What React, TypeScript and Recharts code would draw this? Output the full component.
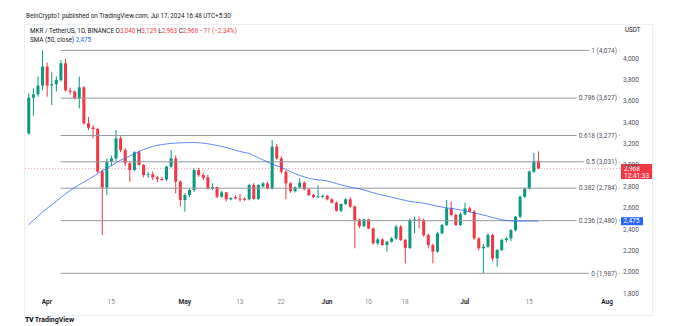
import { ComposedChart, Bar, Line, XAxis, YAxis, ReferenceLine } from "recharts";

// MKR/USDT daily candles, first candle on START_DATE
const START_DATE = "2024-03-28";

const opens = [
  3297, 3631, 3663, 3744, 3922, 3744, 3756, 3797, 3953, 3700,
  3688, 3625, 3728, 3391, 3352, 3338, 2939, 2789, 3032, 3063,
  3251, 3141, 3017, 2954, 3120, 3001, 2907, 2915, 2885, 2870,
  2865, 2985, 3063, 2845, 2673, 2720, 2767, 2954, 2907, 2885,
  2782, 2795, 2704, 2745, 2680, 2700, 2688, 2685, 2680, 2814,
  2683, 2800, 2829, 2782, 3173, 3063, 2939, 2829, 2757, 2792,
  2836, 2773, 2720, 2700, 2708, 2712, 2680, 2648, 2573, 2636,
  2680, 2611, 2490, 2428, 2492, 2408, 2268, 2305, 2252, 2283,
  2314, 2424, 2300, 2225, 2486, 2490, 2486, 2345, 2252, 2190,
  2361, 2439, 2595, 2533, 2439, 2540, 2595, 2564, 2314, 2221,
  2236, 2346, 2127, 2205, 2299, 2314, 2392, 2517, 2704, 2782,
  2939, 3040,
];
const highs = [
  3672, 3719, 3828, 4074, 3960, 3870, 3830, 3984, 3995, 3725,
  3700, 3828, 3740, 3450, 3375, 3350, 2960, 3063, 3090, 3329,
  3270, 3160, 3030, 3130, 3140, 3010, 2935, 2940, 2900, 2890,
  2995, 3141, 3090, 2860, 2736, 2780, 2970, 2975, 2930, 2910,
  2830, 2800, 2760, 2750, 2700, 2720, 2730, 2700, 2825, 2830,
  2820, 2840, 2845, 3235, 3200, 3080, 2950, 2840, 2800, 2876,
  2850, 2785, 2730, 2810, 2725, 2720, 2690, 2660, 2640, 2690,
  2700, 2625, 2500, 2500, 2500, 2415, 2320, 2315, 2290, 2325,
  2440, 2440, 2310, 2500, 2517, 2517, 2500, 2360, 2265, 2375,
  2450, 2673, 2660, 2545, 2560, 2648, 2610, 2580, 2325, 2260,
  2360, 2355, 2215, 2310, 2330, 2400, 2525, 2715, 2790, 2950,
  3116, 3129,
];
const lows = [
  3285, 3463, 3640, 3700, 3640, 3563, 3690, 3780, 3690, 3660,
  3615, 3531, 3380, 3330, 3250, 2930, 2346, 2720, 2990, 3040,
  3120, 2990, 2845, 2945, 2995, 2885, 2880, 2860, 2840, 2850,
  2850, 2975, 2736, 2611, 2564, 2700, 2750, 2890, 2860, 2770,
  2765, 2690, 2695, 2660, 2670, 2680, 2660, 2665, 2670, 2675,
  2675, 2790, 2770, 2770, 3050, 2920, 2680, 2740, 2745, 2780,
  2765, 2710, 2690, 2690, 2690, 2670, 2640, 2565, 2560, 2625,
  2600, 2221, 2410, 2420, 2400, 2255, 2250, 2245, 2190, 2275,
  2300, 2290, 2080, 2215, 2361, 2408, 2330, 2220, 2080, 2180,
  2350, 2430, 2520, 2430, 2430, 2530, 2555, 2300, 2200, 1987,
  2225, 2096, 2049, 2195, 2280, 2290, 2380, 2505, 2690, 2770,
  2925, 2963,
];
const closes = [
  3631, 3663, 3744, 3922, 3744, 3756, 3797, 3953, 3700, 3688,
  3625, 3728, 3391, 3350, 3338, 2939, 2789, 3032, 3063, 3251,
  3141, 3017, 2954, 3120, 3001, 2907, 2915, 2885, 2870, 2865,
  2985, 3063, 2845, 2673, 2720, 2767, 2954, 2907, 2880, 2782,
  2795, 2704, 2745, 2680, 2692, 2688, 2685, 2680, 2814, 2683,
  2814, 2829, 2782, 3173, 3063, 2939, 2829, 2757, 2792, 2836,
  2773, 2720, 2700, 2708, 2712, 2680, 2648, 2573, 2636, 2680,
  2611, 2486, 2428, 2492, 2408, 2268, 2305, 2252, 2283, 2314,
  2424, 2300, 2225, 2486, 2490, 2486, 2345, 2252, 2190, 2361,
  2439, 2595, 2533, 2439, 2540, 2595, 2564, 2314, 2221, 2236,
  2346, 2127, 2205, 2299, 2314, 2392, 2517, 2704, 2782, 2939,
  3039, 2968,
];
// SMA(50, close)
const sma50 = [
  2440, 2480, 2520, 2560, 2595, 2625, 2660, 2695, 2730, 2760,
  2790, 2815, 2840, 2865, 2890, 2920, 2945, 2970, 2995, 3020,
  3045, 3065, 3085, 3105, 3125, 3145, 3160, 3175, 3185, 3192,
  3198, 3203, 3206, 3208, 3210, 3211, 3211, 3210, 3206, 3200,
  3192, 3185, 3175, 3165, 3152, 3140, 3128, 3118, 3110, 3090,
  3070, 3050, 3030, 3010, 2995, 2980, 2960, 2940, 2920, 2905,
  2890, 2878, 2868, 2862, 2858, 2852, 2840, 2828, 2815, 2805,
  2795, 2785, 2778, 2768, 2755, 2742, 2730, 2720, 2710, 2700,
  2690, 2680, 2670, 2660, 2655, 2650, 2643, 2635, 2625, 2615,
  2608, 2600, 2595, 2588, 2580, 2572, 2563, 2553, 2543, 2533,
  2522, 2510, 2500, 2490, 2482, 2478, 2476, 2475, 2476, 2477,
  2477, 2475,
];

const tickDates = [
  "2024-04-01", "2024-04-15", "2024-05-01", "2024-05-13", "2024-05-22", "2024-06-01",
  "2024-06-10", "2024-06-18", "2024-07-01", "2024-07-15", "2024-08-01",
];
const tickLabels = ["Apr", "15", "May", "13", "22", "Jun", "10", "18", "Jul", "15", "Aug"];
const priceTicks = [1800, 2000, 2200, 2400, 2600, 2800, 3000, 3200, 3400, 3600, 3800, 4000];

const fibRatios = ["1", "0.786", "0.618", "0.5", "0.382", "0.236", "0"];
const fibPrices = [4074, 3627, 3277, 3031, 2784, 2480, 1987];
const fibFromDate = "2024-04-04";

const GREEN = "#089981";
const RED = "#f23645";
const BLUE = "#2962ff";
const FONT = "Roboto, 'Liberation Sans', Arial, sans-serif";

const DAY_MS = 86400000;
const dayIndex = (d: string) => Math.round((Date.parse(d) - Date.parse(START_DATE)) / DAY_MS);
const tickDays = tickDates.map(dayIndex);

const X_MIN = -0.78;
const X_MAX = 128.8;
const Y_MIN = 1784;
const Y_MAX = 4293;

const rows = opens.map((o, i) => ({
  day: i,
  open: o,
  high: highs[i],
  low: lows[i],
  close: closes[i],
  range: [lows[i], highs[i]],
  sma: sma50[i],
}));

const fmt = (v: number) => v.toLocaleString("en-US");

const Candle = (props: any) => {
  const { x, y, width, height, payload } = props;
  if (payload == null) return null;
  const { open, close, high, low } = payload;
  const color = close >= open ? GREEN : RED;
  const top = Math.min(y, y + height);
  const h = Math.abs(height);
  const span = high - low || 1;
  const yOf = (v: number) => top + ((high - v) / span) * h;
  const bodyTop = yOf(Math.max(open, close));
  const bodyBottom = yOf(Math.min(open, close));
  const cx = x + width / 2;
  return (
    <g>
      <line x1={cx} x2={cx} y1={top} y2={top + h} stroke={color} strokeWidth={1} />
      <rect x={x} y={bodyTop} width={width} height={Math.max(bodyBottom - bodyTop, 1)} fill={color} />
    </g>
  );
};

const DateTick = ({ x, y, payload }: any) => {
  const label = tickLabels[tickDays.indexOf(payload.value)] ?? "";
  const isMonth = /[A-Za-z]/.test(label);
  return (
    <text
      x={x}
      y={y}
      dy={9}
      textAnchor="middle"
      fontSize={6.5}
      fontFamily={FONT}
      fontWeight={isMonth ? 600 : 400}
      fill={isMonth ? "#131722" : "#8a8d96"}
    >
      {label}
    </text>
  );
};

const PriceTick = ({ x, y, payload }: any) => (
  <text x={x} y={y} dy={2.3} textAnchor="start" fontSize={6.5} fontFamily={FONT} fill="#50535e">
    {fmt(payload.value)}
  </text>
);

const fibLabel = (text: string) => (props: any) => {
  const vb = props.viewBox || {};
  return (
    <text
      x={vb.x + vb.width - 3}
      y={vb.y}
      dy={2.3}
      textAnchor="end"
      fontSize={6.5}
      fontFamily={FONT}
      fill="#50535e"
      stroke="#ffffff"
      strokeWidth={5}
      style={{ paintOrder: "stroke" }}
    >
      {text}
    </text>
  );
};

const lastPriceTag = (props: any) => {
  const vb = props.viewBox || {};
  const left = vb.x + vb.width + 1;
  return (
    <g>
      <rect x={left} y={vb.y - 4.5} width={31} height={15} fill={RED} />
      <text x={left + 3} y={vb.y} dy={2.3} fontSize={6.5} fontFamily={FONT} fill="#fff">
        {fmt(closes[closes.length - 1])}
      </text>
      <text x={left + 3} y={vb.y + 7} dy={2.3} fontSize={6.5} fontFamily={FONT} fill="#fff">
        12:41:33
      </text>
    </g>
  );
};

const smaTag = (props: any) => {
  const vb = props.viewBox || {};
  const left = vb.x + vb.width + 1;
  return (
    <g>
      <rect x={left} y={vb.y - 4} width={22} height={8} fill={BLUE} />
      <text x={left + 2.5} y={vb.y} dy={2.3} fontSize={6.5} fontFamily={FONT} fill="#fff">
        {fmt(sma50[sma50.length - 1])}
      </text>
    </g>
  );
};

export default function App() {
  const last = rows[rows.length - 1];
  const change = last.close - closes[closes.length - 2];
  const pct = (change / closes[closes.length - 2]) * 100;
  const fibStart = dayIndex(fibFromDate);

  return (
    <div
      style={{
        position: "absolute",
        left: 0,
        top: 0,
        width: 700,
        height: 326,
        background: "#fff",
        fontFamily: FONT,
        overflow: "hidden",
      }}
    >
      <div style={{ position: "absolute", left: 26, top: 12, fontSize: 6.3, color: "#131722" }}>
        BeInCrypto1 published on TradingView.com, Jul 17, 2024 16:48 UTC+5:30
      </div>
      <div
        style={{
          position: "absolute",
          left: 24,
          top: 24,
          width: 629,
          height: 292,
          border: "1px solid #eceef2",
          boxSizing: "border-box",
        }}
      />
      <div style={{ position: "absolute", left: 30, top: 27, fontSize: 6.3, color: "#131722", whiteSpace: "nowrap" }}>
        MKR / TetherUS, 1D, BINANCE{" "}
        <span style={{ color: "#131722" }}>O</span>
        <span style={{ color: RED }}>{fmt(last.open)} </span>
        <span>H</span>
        <span style={{ color: RED }}>{fmt(last.high)} </span>
        <span>L</span>
        <span style={{ color: RED }}>{fmt(last.low)} </span>
        <span>C</span>
        <span style={{ color: RED }}>
          {fmt(last.close)} {"\u2212"}
          {Math.abs(change)} ({"\u2212"}
          {Math.abs(pct).toFixed(2)}%)
        </span>
      </div>
      <div style={{ position: "absolute", left: 30, top: 36, fontSize: 6.3, color: "#131722", whiteSpace: "nowrap" }}>
        SMA (50, close) <span style={{ color: BLUE }}>{fmt(last.sma)}</span>
      </div>
      <div style={{ position: "absolute", left: 625, top: 26, fontSize: 6.3, color: "#131722" }}>USDT</div>

      <ComposedChart
        width={700}
        height={326}
        data={rows}
        margin={{ top: 27, right: 47, bottom: 11, left: 25 }}
        style={{ position: "absolute", left: 0, top: 0 }}
      >
        <XAxis
          dataKey="day"
          type="number"
          domain={[X_MIN, X_MAX]}
          allowDataOverflow
          ticks={tickDays}
          tick={<DateTick />}
          tickLine={false}
          axisLine={false}
          tickSize={0}
          tickMargin={0}
          height={20}
          interval={0}
        />
        <YAxis
          orientation="right"
          type="number"
          domain={[Y_MIN, Y_MAX]}
          allowDataOverflow
          ticks={priceTicks}
          tick={<PriceTick />}
          tickLine={false}
          axisLine={false}
          tickSize={0}
          tickMargin={3}
          width={33}
          interval={0}
        />
        {fibPrices.map((p, i) => (
          <ReferenceLine
            key={fibRatios[i]}
            segment={[
              { x: fibStart, y: p },
              { x: X_MAX, y: p },
            ]}
            stroke="#9598a1"
            strokeWidth={1}
            label={fibLabel(`${fibRatios[i]} (${fmt(p)})`)}
          />
        ))}
        <ReferenceLine
          y={last.close}
          stroke={RED}
          strokeOpacity={0.45}
          strokeDasharray="1 2"
          label={lastPriceTag}
        />
        <ReferenceLine y={last.sma} stroke="none" label={smaTag} />
        <Line
          dataKey="sma"
          type="monotone"
          stroke={BLUE}
          strokeOpacity={0.75}
          strokeWidth={1}
          dot={false}
          isAnimationActive={false}
        />
        <Bar dataKey="range" barSize={3} shape={Candle} isAnimationActive={false} />
      </ComposedChart>

      <div
        style={{
          position: "absolute",
          left: 25,
          top: 316,
          fontSize: 7,
          fontWeight: 700,
          color: "#131722",
          whiteSpace: "nowrap",
        }}
      >
        <span style={{ fontWeight: 900, letterSpacing: -0.5 }}>TV</span> TradingView
      </div>
    </div>
  );
}
